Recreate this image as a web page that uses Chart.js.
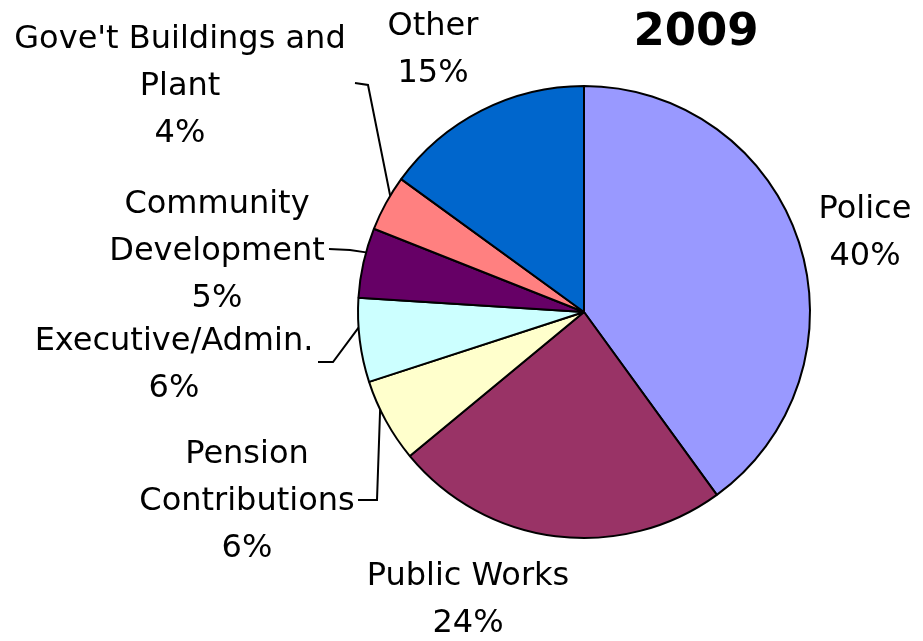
<html>
<head>
<style>
  body { margin: 0; background: #fff; }
</style>
</head>
<body>
<canvas id="myChart" width="923" height="641"></canvas>

<script src="https://cdn.jsdelivr.net/npm/chart.js"></script>
<script>
// 2009 spending by department, share of total (%)
var year = "2009";
var categories = [
    "Police",
    "Public Works",
    ["Pension", "Contributions"],
    "Executive/Admin.",
    ["Community", "Development"],
    ["Gove't Buildings and", "Plant"],
    "Other"
];
var shares = [40, 24, 6, 6, 5, 4, 15];
var sliceColors = ["#9999FF", "#993366", "#FFFFCC", "#CCFFFF", "#660066", "#FF8080", "#0066CC"];

// where each label sits, as offsets from the pie centre (first baseline),
// plus optional leader line points that finish on the slice edge
var labelSpots = [
    { dx: 281, dy: -94 },
    { dx: -116, dy: 273 },
    { dx: -337, dy: 151, leader: [[-226, 188], [-207, 188]] },
    { dx: -410, dy: 38, leader: [[-266, 50], [-251, 50]] },
    { dx: -367, dy: -99, leader: [[-255, -63], [-234, -62]] },
    { dx: -404, dy: -264, leader: [[-229, -229], [-216, -227]] },
    { dx: -151, dy: -277 }
];
var lineHeight = 47;
var labelFont = "32px 'DejaVu Sans'";

var sliceLabels = {
    id: "sliceLabels",
    afterDraw: function (chart) {
        var ctx = chart.ctx;
        var arcs = chart.getDatasetMeta(0).data;
        var cx = arcs[0].x, cy = arcs[0].y;

        ctx.save();
        ctx.fillStyle = "#000";
        ctx.textAlign = "center";
        ctx.textBaseline = "alphabetic";

        // title
        ctx.font = "bold 45px 'DejaVu Sans'";
        ctx.fillText(year, cx + 112, cy - 267);

        ctx.font = labelFont;
        for (var i = 0; i < arcs.length; i++) {
            var spot = labelSpots[i];
            var lines = [].concat(categories[i]);
            lines.push(shares[i] + "%");
            for (var j = 0; j < lines.length; j++) {
                ctx.fillText(lines[j], cx + spot.dx, cy + spot.dy + j * lineHeight);
            }

            if (spot.leader) {
                var arc = arcs[i];
                var a = arc.startAngle + 0.65 * (arc.endAngle - arc.startAngle);
                ctx.strokeStyle = "#000";
                ctx.lineWidth = 2;
                ctx.beginPath();
                ctx.moveTo(cx + spot.leader[0][0], cy + spot.leader[0][1]);
                for (var k = 1; k < spot.leader.length; k++) {
                    ctx.lineTo(cx + spot.leader[k][0], cy + spot.leader[k][1]);
                }
                ctx.lineTo(cx + arc.outerRadius * Math.cos(a), cy + arc.outerRadius * Math.sin(a));
                ctx.stroke();
            }
        }
        ctx.restore();
    }
};

var ctx = document.getElementById("myChart").getContext("2d");
var myChart = new Chart(ctx, {
    type: 'pie',
    data: {
        labels: categories,
        datasets: [{
            data: shares,
            backgroundColor: sliceColors,
            borderColor: "#000",
            borderWidth: 2
        }]
    },
    options: {
        responsive: false,
        animation: false,
        layout: {
            padding: { left: 357, right: 112, top: 85, bottom: 102 }
        },
        plugins: {
            legend: { display: false },
            tooltip: { enabled: false }
        }
    },
    plugins: [sliceLabels]
});
</script>
</body>
</html>
